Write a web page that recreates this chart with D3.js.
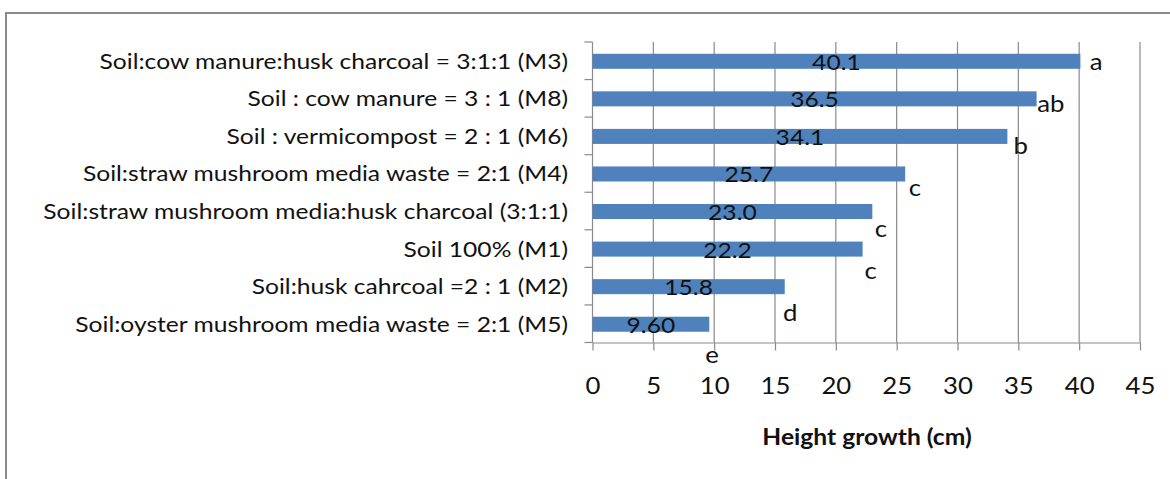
<!DOCTYPE html>
<html>
<head>
<meta charset="utf-8">
<script src="https://cdn.jsdelivr.net/npm/d3@7"></script>
<style>
  body { margin: 0; background: #fff; }
  svg text { font-family: Lato, "Open Sans", sans-serif; fill: #111; }
</style>
</head>
<body>
<div id="chart"></div>
<script>
var categories = [
  "Soil:cow manure:husk charcoal = 3:1:1 (M3)",
  "Soil : cow manure = 3 : 1 (M8)",
  "Soil : vermicompost = 2 : 1 (M6)",
  "Soil:straw mushroom media waste = 2:1 (M4)",
  "Soil:straw mushroom media:husk charcoal (3:1:1)",
  "Soil 100% (M1)",
  "Soil:husk cahrcoal =2 : 1 (M2)",
  "Soil:oyster mushroom media waste = 2:1 (M5)"
];
var heights = [40.1, 36.5, 34.1, 25.7, 23.0, 22.2, 15.8, 9.6];
var valueLabels = ["40.1", "36.5", "34.1", "25.7", "23.0", "22.2", "15.8", "9.60"];
var letters = ["a", "ab", "b", "c", "c", "c", "d", "e"];
var xTicks = [0, 5, 10, 15, 20, 25, 30, 35, 40, 45];
var xTitle = "Height growth (cm)";

(function barChart() {
  var W = 1170, H = 479;
  var left = 592.5, right = 1140, top = 42, bottom = 342.5;
  var grey = "#8a8a8a";
  var sx = 1.12; // the original text is a little wider than it is tall

  // place a text at (px, py) and widen it a bit
  function place(sel, px, py) {
    sel.attr("x", 0).attr("y", 0)
       .attr("transform", function(d, i) {
         return "translate(" + px(d, i) + "," + py(d, i) + ") scale(" + sx + ",1)";
       });
  }

  var svg = d3.select("#chart").append("svg")
      .attr("width", W)
      .attr("height", H);

  // chart frame
  svg.append("rect")
      .attr("x", 6).attr("y", 13)
      .attr("width", W + 20).attr("height", H + 20)
      .attr("fill", "none")
      .attr("stroke", grey)
      .attr("stroke-width", 2);

  var x = d3.scaleLinear().domain([0, 45]).range([left, right]);
  var y = d3.scaleBand().domain(categories).range([top, bottom])
      .paddingInner(0.6).paddingOuter(0.3);
  var yCat = d3.scaleBand().domain(categories).range([top, bottom]);

  // letters sit on a secondary placement, like a hidden second series
  var lx = d3.scaleLinear().domain([0, 45]).range([591, 1158]);
  var ly = d3.scaleBand().domain(categories).range([49, 384]);

  // vertical gridlines
  svg.append("g").selectAll("line")
      .data(xTicks.slice(1))
    .enter().append("line")
      .attr("x1", function(d) { return x(d); })
      .attr("x2", function(d) { return x(d); })
      .attr("y1", top)
      .attr("y2", bottom)
      .attr("stroke", grey)
      .attr("stroke-width", 1.2);

  // bottom axis
  var xAxis = svg.append("g")
      .attr("transform", "translate(0," + bottom + ")")
      .call(d3.axisBottom(x).tickValues(xTicks).tickSize(8).tickSizeOuter(0));
  xAxis.select(".domain").attr("stroke", grey).attr("stroke-width", 1.2);
  xAxis.selectAll(".tick line").attr("stroke", grey).attr("stroke-width", 1.2);
  xAxis.selectAll(".tick text")
      .attr("dy", 0)
      .style("font-size", "23px")
      .style("font-family", "Lato, sans-serif")
      .attr("fill", "#222")
      .call(place, function() { return 0; }, function() { return 51; });

  // left axis with ticks between categories
  svg.append("line")
      .attr("x1", left).attr("x2", left)
      .attr("y1", top).attr("y2", bottom)
      .attr("stroke", grey).attr("stroke-width", 1.2);
  var bounds = categories.map(function(d) { return yCat(d); }).concat([bottom]);
  svg.append("g").selectAll("line")
      .data(bounds)
    .enter().append("line")
      .attr("x1", left - 8).attr("x2", left)
      .attr("y1", function(d) { return d; })
      .attr("y2", function(d) { return d; })
      .attr("stroke", grey).attr("stroke-width", 1.2);

  svg.append("g").selectAll("text")
      .data(categories)
    .enter().append("text")
      .attr("text-anchor", "end")
      .style("font-size", "22px")
      .text(function(d) { return d; })
      .call(place, function() { return 568; },
                   function(d) { return yCat(d) + yCat.bandwidth() / 2 + 8; });

  // bars
  svg.append("g").selectAll("rect")
      .data(heights)
    .enter().append("rect")
      .attr("x", x(0))
      .attr("y", function(d, i) { return y(categories[i]) + 0.5; })
      .attr("width", function(d) { return x(d) - x(0); })
      .attr("height", y.bandwidth())
      .attr("fill", "#4f81bd");

  // value labels centred on the bars
  svg.append("g").selectAll("text")
      .data(heights)
    .enter().append("text")
      .attr("text-anchor", "middle")
      .style("font-size", "22px")
      .text(function(d, i) { return valueLabels[i]; })
      .call(place, function(d) { return x(d / 2); },
                   function(d, i) { return y(categories[i]) + y.bandwidth() / 2 + 9; });

  // significance letters
  svg.append("g").selectAll("text")
      .data(letters)
    .enter().append("text")
      .attr("text-anchor", "middle")
      .style("font-size", "23px")
      .text(function(d) { return d; })
      .call(place, function(d, i) { return lx(heights[i]); },
                   function(d, i) { return ly(categories[i]) + ly.bandwidth() / 2; });

  svg.append("text")
      .attr("text-anchor", "middle")
      .style("font-size", "22px")
      .style("font-weight", "bold")
      .text(xTitle)
      .call(place, function() { return 867; }, function() { return 445; });
}());
</script>
</body>
</html>
